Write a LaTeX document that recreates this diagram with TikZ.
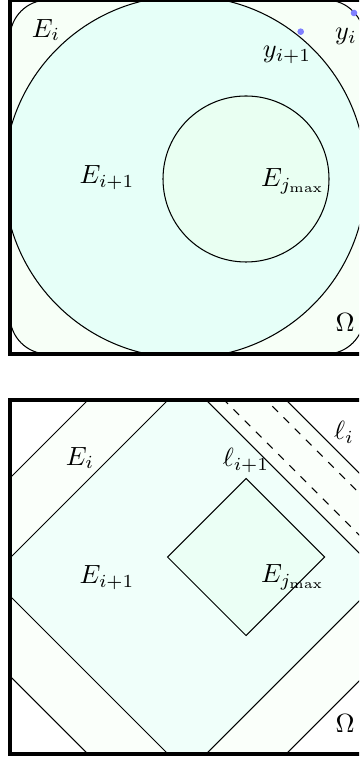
\documentclass[tikz,border=0pt]{standalone}
\definecolor{eiband}{RGB}{247,255,247}
\definecolor{einext}{RGB}{230,255,248}
\definecolor{ejtop}{RGB}{233,255,242}
\definecolor{eibandB}{RGB}{250,255,250}
\definecolor{einextB}{RGB}{240,255,250}
\definecolor{ejbot}{RGB}{235,255,245}
\definecolor{dotblue}{RGB}{128,128,255}
\tikzset{
  thinline/.style={draw=black, line width=0.4pt},
  frame/.style={draw=black, line width=1.55pt},
  lab/.style={inner sep=0pt, outer sep=0pt},
  ydot/.style={fill=dotblue}
}
\begin{document}
\begin{tikzpicture}[x=0.38pt,y=-0.38pt]
\useasboundingbox (0,0) rectangle (359,760);
\clip (0,0) rectangle (359,760);
% ---------- top panel ----------
\begin{scope}
  \clip (10,0) rectangle (364,354);
  \fill[white] (10,0) rectangle (364,354);
  \draw[thinline, fill=eiband, rounded corners=14.4pt] (10,0) rectangle (364,354);
  \draw[thinline, fill=einext] (185,177) circle[radius=181];
  \draw[thinline, fill=ejtop] (246,179) circle[radius=83];
\end{scope}
\draw[frame] (10,0) rectangle (364,354);
\coordinate (yinext) at (300.7,31.7);
\coordinate (yi) at (354,13);
\fill[ydot] (yinext) circle[radius=3.3];
\fill[ydot] (yi) circle[radius=3.3];
\node[lab] (tEi) at (46,30) {$E_i$};
\node[lab] (tyi) at (346,36) {$y_i$};
\node[lab] (tyinext) at (287,55) {$y_{i+1}$};
\node[lab] (tEinext) at (107,178) {$E_{i+1}$};
\node[lab] (tEj) at (293,181) {$E_{j_{\max}}$};
\node[lab] (tOmega) at (345,323) {$\Omega$};
% ---------- bottom panel ----------
\begin{scope}
  \clip (10,400) rectangle (364,754);
  \fill[white] (10,400) rectangle (364,754);
  \draw[thinline, fill=eibandB] (-89,577) -- (187,301) -- (463,577) -- (187,853) -- cycle;
  \draw[thinline, fill=einextB] (-9,577) -- (187,381) -- (383,577) -- (187,773) -- cycle;
  \draw[thinline, fill=ejbot] (167.5,557) -- (246,478.5) -- (324.5,557) -- (246,635.5) -- cycle;
  \coordinate (da) at (200,376);
  \coordinate (db) at (420,596);
  \coordinate (dc) at (250,384);
  \coordinate (dd) at (420,554);
  \draw[thinline, dashed] (da) -- (db);
  \draw[thinline, dashed] (dc) -- (dd);
\end{scope}
\draw[frame] (10,400) rectangle (364,754);
\node[lab] (bEi) at (80,458) {$E_i$};
\node[lab] (bli) at (344,432) {$\ell_i$};
\node[lab] (blinext) at (246,460) {$\ell_{i+1}$};
\node[lab] (bEinext) at (107,578) {$E_{i+1}$};
\node[lab] (bEj) at (293,577) {$E_{j_{\max}}$};
\node[lab] (bOmega) at (345,723) {$\Omega$};
\end{tikzpicture}
\end{document}
